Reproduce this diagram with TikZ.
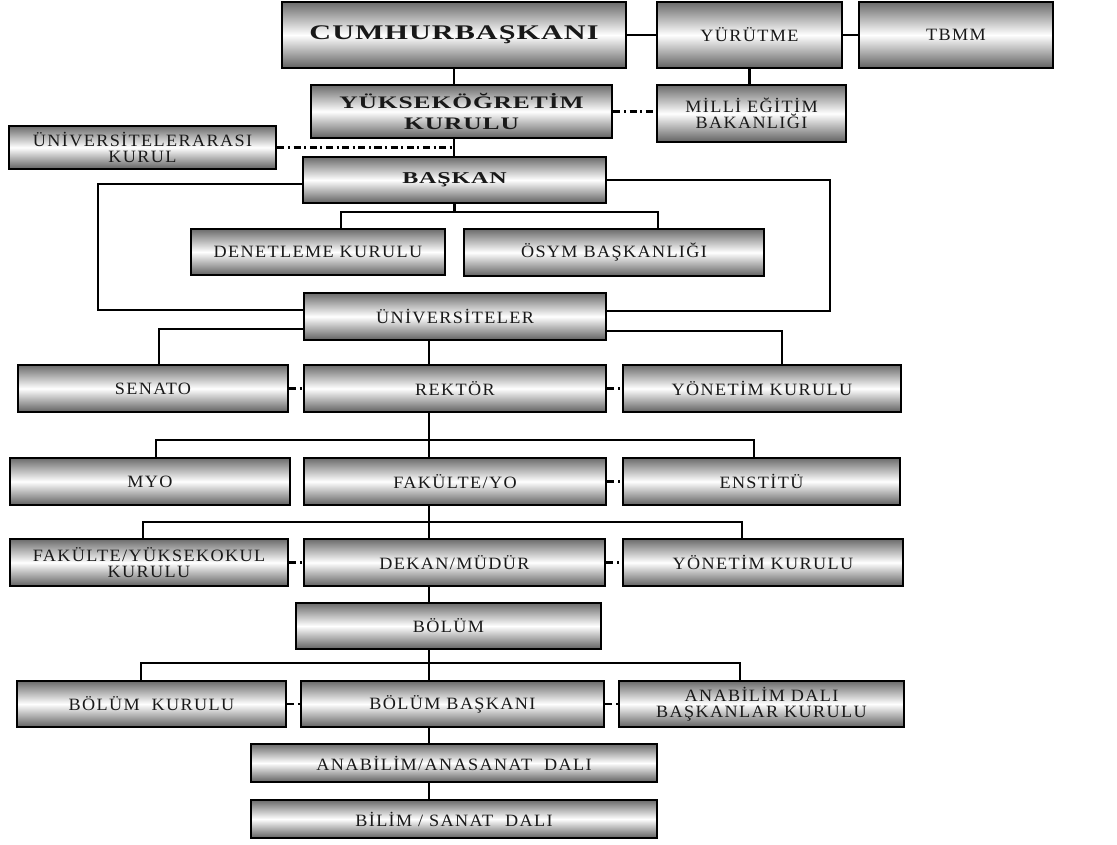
\documentclass[tikz,border=0pt]{standalone}
\usepackage{fontspec}
\setmainfont{Liberation Serif}[FakeStretch=1.05,LetterSpace=8]
\newfontfamily\widefont{Liberation Serif}[FakeStretch=1.45,LetterSpace=5]
\usepackage{tikz}
\usetikzlibrary{calc}

\begin{document}
\begin{tikzpicture}[x=0.025cm,y=-0.025cm,
	box/.style={draw=black, line width=2pt, top color=black!58, bottom color=black!62, middle color=white,
		inner sep=0pt, align=center, text=black!90, font=\fontsize{12.3}{11.5}\selectfont},
	boldbox/.style={box, font=\widefont\bfseries\fontsize{#1}{#1}\selectfont},
	link/.style={line width=1.5pt},
	dashlink/.style={line width=1.6pt, dash pattern=on 5pt off 2.5pt on 1.5pt off 2.5pt}]
	\useasboundingbox (0,0) rectangle (1117,844);

	% top row
	\node[boldbox=14.8, minimum width=8.6cm, minimum height=1.65cm] (cb) at (454,35) {CUMHURBAŞKANI};
	\node[box, minimum width=4.625cm, minimum height=1.65cm] (yur) at (749.5,35) {YÜRÜTME};
	\node[box, minimum width=4.85cm, minimum height=1.65cm] (tbmm) at (956,35) {TBMM};

	\node[boldbox=12.5, minimum width=7.525cm, minimum height=1.325cm, align=center] (yok) at (461.5,111.5) {YÜKSEKÖĞRETİM\\[2pt]KURULU};
	\node[box, minimum width=4.725cm, minimum height=1.425cm] (meb) at (751.5,113.5) {MİLLİ EĞİTİM\\BAKANLIĞI};
	\node[box, minimum width=6.675cm, minimum height=1.075cm] (uka) at (142.5,147.5) {ÜNİVERSİTELERARASI\\KURUL};
	\node[boldbox=11.8, minimum width=7.575cm, minimum height=1.15cm] (bk) at (454.5,180) {BAŞKAN};
	\node[box, minimum width=6.35cm, minimum height=1.15cm] (den) at (318,252) {DENETLEME KURULU};
	\node[box, minimum width=7.5cm, minimum height=1.175cm] (osym) at (614,252.5) {ÖSYM BAŞKANLIĞI};

	% universities
	\node[box, minimum width=7.55cm, minimum height=1.175cm] (uni) at (455,316.5) {ÜNİVERSİTELER};
	\node[box, minimum width=6.75cm, minimum height=1.175cm] (sen) at (153,388.5) {SENATO};
	\node[box, minimum width=7.55cm, minimum height=1.175cm] (rek) at (455,388.5) {REKTÖR};
	\node[box, minimum width=6.95cm, minimum height=1.175cm] (yk1) at (762,388.5) {YÖNETİM KURULU};
	\node[box, minimum width=7cm, minimum height=1.175cm] (myo) at (150,481.5) {MYO};
	\node[box, minimum width=7.55cm, minimum height=1.175cm] (fak) at (455,481.5) {FAKÜLTE/YO};
	\node[box, minimum width=6.925cm, minimum height=1.175cm] (ens) at (761.5,481.5) {ENSTİTÜ};
	\node[box, minimum width=6.95cm, minimum height=1.175cm] (fyk) at (149,562.5) {FAKÜLTE/YÜKSEKOKUL\\KURULU};
	\node[box, minimum width=7.525cm, minimum height=1.175cm] (dek) at (454.5,562.5) {DEKAN/MÜDÜR};
	\node[box, minimum width=7cm, minimum height=1.175cm] (yk2) at (763,562.5) {YÖNETİM KURULU};

	% departments
	\node[box, minimum width=7.625cm, minimum height=1.15cm] (bol) at (448.5,626) {BÖLÜM};
	\node[box, minimum width=6.725cm, minimum height=1.15cm] (bkur) at (151.5,704) {BÖLÜM~~KURULU};
	\node[box, minimum width=7.575cm, minimum height=1.15cm] (bbas) at (452.5,704) {BÖLÜM BAŞKANI};
	\node[box, minimum width=7.125cm, minimum height=1.15cm] (adbk) at (761.5,704) {ANABİLİM DALI\\BAŞKANLAR KURULU};
	\node[box, minimum width=10.15cm, minimum height=0.95cm] (ana) at (454,763) {ANABİLİM/ANASANAT~~DALI};
	\node[box, minimum width=10.15cm, minimum height=0.95cm] (bil) at (454,819) {BİLİM / SANAT~~DALI};

	% connectors
	\coordinate (sp) at (429,0);
	\draw[link] (cb.east) -- (yur.west);
	\draw[link] (yur.east) -- (tbmm.west);
	\draw[link] (yur.south) -- (yur.south |- meb.north);
	\draw[link] (cb.south) -- (cb.south |- yok.north);
	\draw[dashlink] (yok.east) -- (yok.east -| meb.west);
	\draw[link] (cb.south |- yok.south) -- (cb.south |- bk.north);
	\draw[dashlink] (uka.east) -- (uka.east -| cb.south);

	\coordinate (lft) at (98,310);
	\coordinate (rgt) at (830,311);
	\draw[link] ($(bk.west)+(0,4)$) -| (lft) -- (lft -| uni.west);
	\draw[link] (bk.east) -| (rgt) -- (rgt -| uni.east);

	\coordinate (f1l) at (341,212);
	\coordinate (f1r) at (658,212);
	\draw[link] (bk.south) -- (bk.south |- f1l);
	\draw[link] (f1l |- den.north) -- (f1l) -- (f1r) -- (f1r |- osym.north);

	\coordinate (f2l) at (159,329);
	\coordinate (f2r) at (782,331);
	\draw[link] (f2l -| uni.west) -- (f2l) -- (f2l |- sen.north);
	\draw[link] (f2r -| uni.east) -- (f2r) -- (f2r |- yk1.north);
	\draw[link] (sp |- uni.south) -- (sp |- rek.north);
	\draw[dashlink] (sen.east) -- (rek.west);
	\draw[dashlink] (rek.east) -- (yk1.west);

	\coordinate (f3l) at (156,440);
	\coordinate (f3r) at (754,440);
	\draw[link] (sp |- rek.south) -- (sp |- fak.north);
	\draw[link] (f3l |- myo.north) -- (f3l) -- (f3r) -- (f3r |- ens.north);
	\draw[dashlink] (fak.east) -- (ens.west);

	\coordinate (f4l) at (143,522);
	\coordinate (f4r) at (742,522);
	\draw[link] (sp |- fak.south) -- (sp |- dek.north);
	\draw[link] (f4l |- fyk.north) -- (f4l) -- (f4r) -- (f4r |- yk2.north);
	\draw[dashlink] (fyk.east) -- (dek.west);
	\draw[dashlink] (dek.east) -- (yk2.west);

	\draw[link] (sp |- dek.south) -- (sp |- bol.north);
	\coordinate (f5l) at (141,663);
	\coordinate (f5r) at (740,663);
	\draw[link] (sp |- bol.south) -- (sp |- bbas.north);
	\draw[link] (f5l |- bkur.north) -- (f5l) -- (f5r) -- (f5r |- adbk.north);
	\draw[dashlink] (bkur.east) -- (bbas.west);
	\draw[dashlink] (bbas.east) -- (adbk.west);
	\draw[link] (sp |- bbas.south) -- (sp |- ana.north);
	\draw[link] (sp |- ana.south) -- (sp |- bil.north);
\end{tikzpicture}
\end{document}
